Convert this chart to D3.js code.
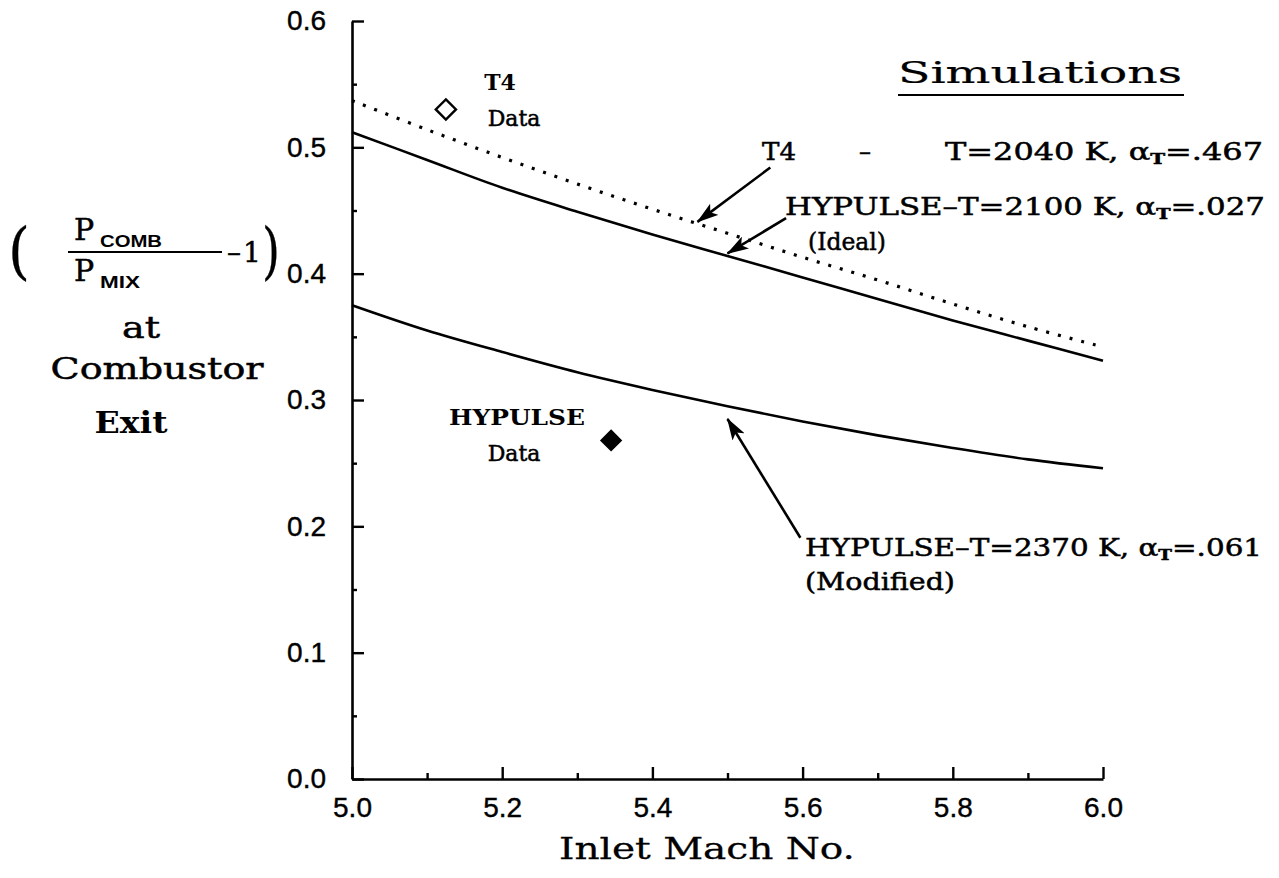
<!DOCTYPE html>
<html>
<head>
<meta charset="utf-8">
<script src="https://cdn.jsdelivr.net/npm/d3@7"></script>
<style>
  html, body { margin: 0; padding: 0; background: #fff; }
  svg { display: block; }
</style>
</head>
<body>
<svg id="chart" width="1279" height="878"></svg>
<script>
// ---------------- DATA ----------------
const machValues = [5.0, 5.1, 5.2, 5.3, 5.4, 5.5, 5.6, 5.7, 5.8, 5.9, 6.0];
const t4Sim      = [0.537, 0.514, 0.492, 0.471, 0.451, 0.432, 0.413, 0.395, 0.376, 0.358, 0.342];
const hypIdeal   = [0.512, 0.490, 0.468, 0.449, 0.431, 0.414, 0.397, 0.380, 0.363, 0.347, 0.331];
const hypModified= [0.375, 0.355, 0.338, 0.322, 0.308, 0.295, 0.283, 0.272, 0.262, 0.253, 0.246];

const t4DataPoint      = [5.125, 0.530];
const hypulseDataPoint = [5.345, 0.268];

const xMajorTicks = [5.0, 5.2, 5.4, 5.6, 5.8, 6.0];
const xMinorTicks = [5.1, 5.3, 5.5, 5.7, 5.9];
const yMajorTicks = [0.0, 0.1, 0.2, 0.3, 0.4, 0.5, 0.6];
const yMinorTicks = [0.05, 0.15, 0.25, 0.35, 0.45, 0.55];

// arrows: [tailMach, tailValue, headMach, headValue]
const arrowT4       = [5.557, 0.484, 5.460, 0.441];
const arrowIdeal    = [5.578, 0.444, 5.500, 0.416];
const arrowModified = [5.597, 0.191, 5.500, 0.285];

// ---------------- CHART ----------------
const svg = d3.select("#chart");
const x = d3.scaleLinear().domain([5, 6]).range([352, 1103]);
const y = d3.scaleLinear().domain([0, 0.6]).range([779, 21]);

const serif = "'DejaVu Serif', serif";
const sans  = "'Liberation Sans', Arial, sans-serif";

// axes
const yAxis = d3.axisLeft(y).tickValues(yMajorTicks).tickSize(-12).tickSizeOuter(0)
  .tickPadding(26).tickFormat(d3.format(".1f"));
const gy = svg.append("g").attr("transform", `translate(${x(5)},0)`).call(yAxis);
const yMinor = d3.axisLeft(y).tickValues(yMinorTicks).tickSize(-5).tickFormat("");
const gy2 = svg.append("g").attr("transform", `translate(${x(5)},0)`).call(yMinor);
gy2.select(".domain").remove();

const xAxis = d3.axisBottom(x).tickValues(xMajorTicks).tickSize(-12).tickSizeOuter(0)
  .tickPadding(18).tickFormat(d3.format(".1f"));
const gx = svg.append("g").attr("transform", `translate(0,${y(0)})`).call(xAxis);
const xMinor = d3.axisBottom(x).tickValues(xMinorTicks).tickSize(-6).tickFormat("");
const gx2 = svg.append("g").attr("transform", `translate(0,${y(0)})`).call(xMinor);
gx2.select(".domain").remove();

svg.selectAll(".domain").attr("stroke", "#000").attr("stroke-width", 2.6);
svg.selectAll(".tick line").attr("stroke", "#000").attr("stroke-width", 2.4);
svg.selectAll(".tick text").attr("fill", "#000")
  .style("font-family", sans).style("font-size", "28px")
  .attr("stroke", "#000").attr("stroke-width", 0.4);

// curves
const line = d3.line().x((d, i) => x(machValues[i])).y(d => y(d)).curve(d3.curveCatmullRom);
svg.append("path").datum(t4Sim).attr("d", line).attr("fill", "none")
  .attr("stroke", "#000").attr("stroke-width", 3.2).attr("stroke-dasharray", "3 9");
svg.append("path").datum(hypIdeal).attr("d", line).attr("fill", "none")
  .attr("stroke", "#000").attr("stroke-width", 2.6);
svg.append("path").datum(hypModified).attr("d", line).attr("fill", "none")
  .attr("stroke", "#000").attr("stroke-width", 2.6);

// data points
const diamond = d3.symbol().type(d3.symbolDiamond2).size(260);
svg.append("path").attr("d", diamond)
  .attr("transform", `translate(${x(t4DataPoint[0])},${y(t4DataPoint[1])})`)
  .attr("fill", "#fff").attr("stroke", "#000").attr("stroke-width", 2.4);
svg.append("path").attr("d", diamond)
  .attr("transform", `translate(${x(hypulseDataPoint[0])},${y(hypulseDataPoint[1])})`)
  .attr("fill", "#000").attr("stroke", "#000").attr("stroke-width", 1.5);

// arrow marker
svg.append("defs").append("marker").attr("id", "ah")
  .attr("viewBox", "0 0 22 14").attr("refX", 21).attr("refY", 7)
  .attr("markerWidth", 22).attr("markerHeight", 14).attr("markerUnits", "userSpaceOnUse")
  .attr("orient", "auto")
  .append("path").attr("d", "M0,0 L22,7 L0,14 L5,7 Z").attr("fill", "#000");
[arrowT4, arrowIdeal, arrowModified].forEach(a => {
  svg.append("line")
    .attr("x1", x(a[0])).attr("y1", y(a[1])).attr("x2", x(a[2])).attr("y2", y(a[3]))
    .attr("stroke", "#000").attr("stroke-width", 2.6).attr("marker-end", "url(#ah)");
});

// text helper
function txt(px, py, str, opts = {}) {
  const t = svg.append("text").attr("x", px).attr("y", py)
    .attr("text-anchor", opts.anchor || "start")
    .attr("dominant-baseline", "central")
    .style("font-family", opts.family || serif)
    .style("font-size", (opts.size || 24) + "px")
    .style("font-weight", opts.weight || "normal")
    .attr("fill", "#000")
    .attr("stroke", "#000").attr("stroke-width", opts.sw === undefined ? 0.5 : opts.sw)
    .text(str);
  if (opts.len) t.attr("textLength", opts.len).attr("lengthAdjust", "spacingAndGlyphs");
  return t;
}

// label with alpha_T subscript
function alphaLabel(px, py, pre, post, len) {
  const t = svg.append("text").attr("x", px).attr("y", py)
    .attr("dominant-baseline", "central")
    .style("font-family", serif).style("font-size", "24px").attr("fill", "#000")
    .attr("stroke", "#000").attr("stroke-width", 0.5);
  t.append("tspan").text(pre + "\u03B1");
  t.append("tspan").attr("dy", 7).style("font-size", "15px").style("font-weight", "bold").text("T");
  t.append("tspan").attr("dy", -7).text(post);
  if (len) t.attr("textLength", len).attr("lengthAdjust", "spacingAndGlyphs");
  return t;
}

// data labels
txt(500, 82, "T4", {anchor: "middle", size: 22, weight: "bold", sw: 0});
txt(514, 118, "Data", {anchor: "middle", size: 22});
txt(517, 417, "HYPULSE", {anchor: "middle", size: 22, weight: "bold", len: 136, sw: 0});
txt(514, 453, "Data", {anchor: "middle", size: 22});

// Simulations legend
txt(1040, 72, "Simulations", {anchor: "middle", size: 30, len: 284, sw: 0.2});
svg.append("line").attr("x1", 898).attr("x2", 1184).attr("y1", 95).attr("y2", 95)
  .attr("stroke", "#000").attr("stroke-width", 2.2);

txt(762, 152, "T4", {size: 24, len: 34});
txt(859, 152, "\u2013", {size: 24});
alphaLabel(945, 152, "T=2040 K, ", "=.467", 318);
alphaLabel(785, 207, "HYPULSE\u2013T=2100 K, ", "=.027", 480);
txt(808, 242, "(Ideal)", {size: 24, len: 78});
alphaLabel(805, 548, "HYPULSE\u2013T=2370 K, ", "=.061", 457);
txt(805, 582, "(Modified)", {size: 24, len: 150});

// x axis title
txt(707, 848, "Inlet Mach No.", {anchor: "middle", size: 30, len: 296, sw: 0.3});

// y axis title
txt(8, 250, "(", {size: 62, sw: 0.3, len: 22});
txt(262, 250, ")", {size: 62, sw: 0.3, len: 18});
txt(74, 229, "P", {size: 30});
txt(100, 241, "COMB", {size: 16, weight: "bold", family: sans, len: 62, sw: 0});
svg.append("line").attr("x1", 68).attr("x2", 222).attr("y1", 252).attr("y2", 252)
  .attr("stroke", "#000").attr("stroke-width", 2);
txt(74, 270, "P", {size: 30});
txt(100, 282, "MIX", {size: 16, weight: "bold", family: sans, len: 40, sw: 0});
txt(234, 252, "\u2013", {size: 28, anchor: "middle"});
txt(252, 252, "1", {size: 28, anchor: "middle"});
txt(141, 327, "at", {anchor: "middle", size: 30, len: 38});
txt(157, 368, "Combustor", {anchor: "middle", size: 30, len: 213});
txt(131, 422, "Exit", {anchor: "middle", size: 30, weight: "bold", len: 73, sw: 0});
</script>
</body>
</html>
